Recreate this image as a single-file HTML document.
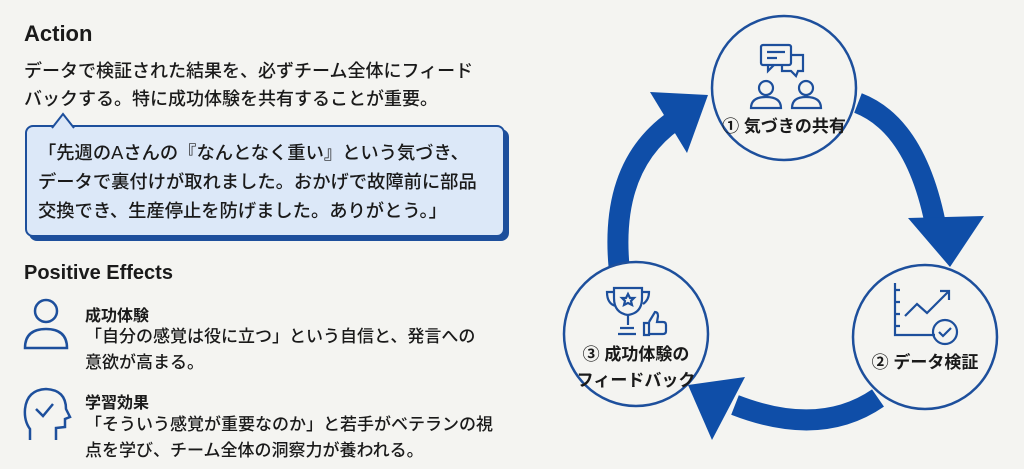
<!DOCTYPE html>
<html><head><meta charset="utf-8"><style>
body{margin:0;width:1024px;height:469px;background:#f4f4f1;position:relative;overflow:hidden;font-family:"Liberation Sans","Noto Sans CJK JP",sans-serif;color:#1a1a1a}
.a{position:absolute;white-space:nowrap}
h1{margin:0;position:absolute;font-size:22px;font-weight:bold}
.p{font-size:18px;line-height:28px;font-weight:500}
.bub{position:absolute;left:25px;top:125px;width:476px;height:108px;background:#dce8f8;border:2px solid #1d4f9c;border-radius:8px;box-shadow:4px 4px 0 #1d4f9c}
.bt{font-size:18.3px;line-height:29px;font-weight:500}
.t{font-size:16px;font-weight:bold}
.d{font-size:17px;line-height:26px;font-weight:500}
.cl{font-size:17px;font-weight:bold;text-align:center;line-height:26px}
</style></head><body>
<h1 style="left:24px;top:21px">Action</h1>
<div class="a p" style="left:24px;top:57px">データで検証された結果を、必ずチーム全体にフィード<br>バックする。特に成功体験を共有することが重要。</div>
<div class="bub"></div>
<svg class="a" style="left:50px;top:112px" width="30" height="18"><path d="M2 16 L13 2 L24 16" fill="#dce8f8" stroke="#1d4f9c" stroke-width="2"/><rect x="4" y="15" width="18" height="4" fill="#dce8f8"/></svg>
<div class="a bt" style="left:38px;top:138px">「先週のAさんの『なんとなく重い』という気づき、<br>データで裏付けが取れました。おかげで故障前に部品<br>交換でき、生産停止を防げました。ありがとう。」</div>
<h1 style="left:24px;top:262px;font-size:20px">Positive Effects</h1>
<svg class="a" style="left:22px;top:296px" width="50" height="58" fill="none" stroke="#1d4f9c" stroke-width="2.5"><circle cx="24" cy="15" r="11"/><path d="M3 52 Q3 33 24 33 Q45 33 45 52 Z"/></svg>
<div class="a t" style="left:85px;top:302px">成功体験</div>
<div class="a d" style="left:85px;top:324px">「自分の感覚は役に立つ」という自信と、発言への<br>意欲が高まる。</div>
<svg class="a" style="left:22px;top:385px" width="50" height="58" fill="none" stroke="#1d4f9c" stroke-width="2.5"><path d="M8 55 V44 Q2 36 3 24 Q5 5 24 4 Q44 5 44 24 L48 32 L43 34 V42 L34 43 V55"/><path d="M14 24 L21 31 L31 19"/></svg>
<div class="a t" style="left:85px;top:389px">学習効果</div>
<div class="a d" style="left:85px;top:412px">「そういう感覚が重要なのか」と若手がベテランの視<br>点を学び、チーム全体の洞察力が養われる。</div>

<svg class="a" style="left:0;top:0" width="1024" height="469">
<g fill="none" stroke="#0f4ea8" stroke-width="21">
<path d="M858 103 Q915 125 935 222"/>
<path d="M878 398 Q820 438 735 405"/>
<path d="M619 266 Q610 165 675 120"/>
</g>
<g fill="#0f4ea8">
<path d="M908 218 L984 216 L950 267 Z"/>
<path d="M745 377 L712 440 L688 385 Z"/>
<path d="M650 92 L708 95 L687 153 Z"/>
</g>
<g fill="#f4f4f1" stroke="#1d4f9c" stroke-width="2.5">
<circle cx="784" cy="88" r="72"/>
<circle cx="925" cy="337" r="72"/>
<circle cx="636" cy="334" r="72"/>
</g>
<g fill="none" stroke="#1d4f9c" stroke-width="2.2">
<rect x="761" y="45" width="30" height="20" rx="2"/><path d="M768 65 v6 l6 -6"/><path d="M767 52 h18 M767 58 h10"/>
<path d="M791 55 h12 v16 h-5 l-2 5 l-5 -5 h-9 v-6"/>
<circle cx="766" cy="88" r="7"/><path d="M751 108 q0 -11 15 -11 q15 0 15 11 z"/>
<circle cx="806" cy="88" r="7"/><path d="M792 108 q0 -11 14 -11 q15 0 15 11 z"/>
<path d="M895 283 v52 h40 M895 290 h5 M895 302 h5 M895 314 h5 M895 326 h5"/>
<path d="M905 316 l12 -12 l10 9 l22 -22 M940 291 h9 v9"/>
<circle cx="945" cy="332" r="12"/><path d="M939 332 l4 4 l8 -8"/>
<path d="M614 288 h28 v10 q0 15 -14 17 q-14 -2 -14 -17 z M614 292 h-7 q0 12 9 14 M642 292 h7 q0 8 -6 12"/>
<path d="M628 315 v10 M620 328 h14 M618 334 h18"/>
<path d="M628 294 l2 4 h4 l-3 3 l1 4 l-4 -2 l-4 2 l1 -4 l-3 -3 h4 z"/>
<path d="M644 323 v12 h5 v-12 z M649 334 h14 q3 0 3 -3 v-6 q0 -3 -3 -3 h-6 l1 -6 q0 -4 -3 -4 l-6 10"/>
</g>
</svg>
<div class="a cl" style="left:714px;top:114px;width:140px">① 気づきの共有</div>
<div class="a cl" style="left:855px;top:350px;width:140px">② データ検証</div>
<div class="a cl" style="left:566px;top:342px;width:140px">③ 成功体験の<br>フィードバック</div>
</body></html>
